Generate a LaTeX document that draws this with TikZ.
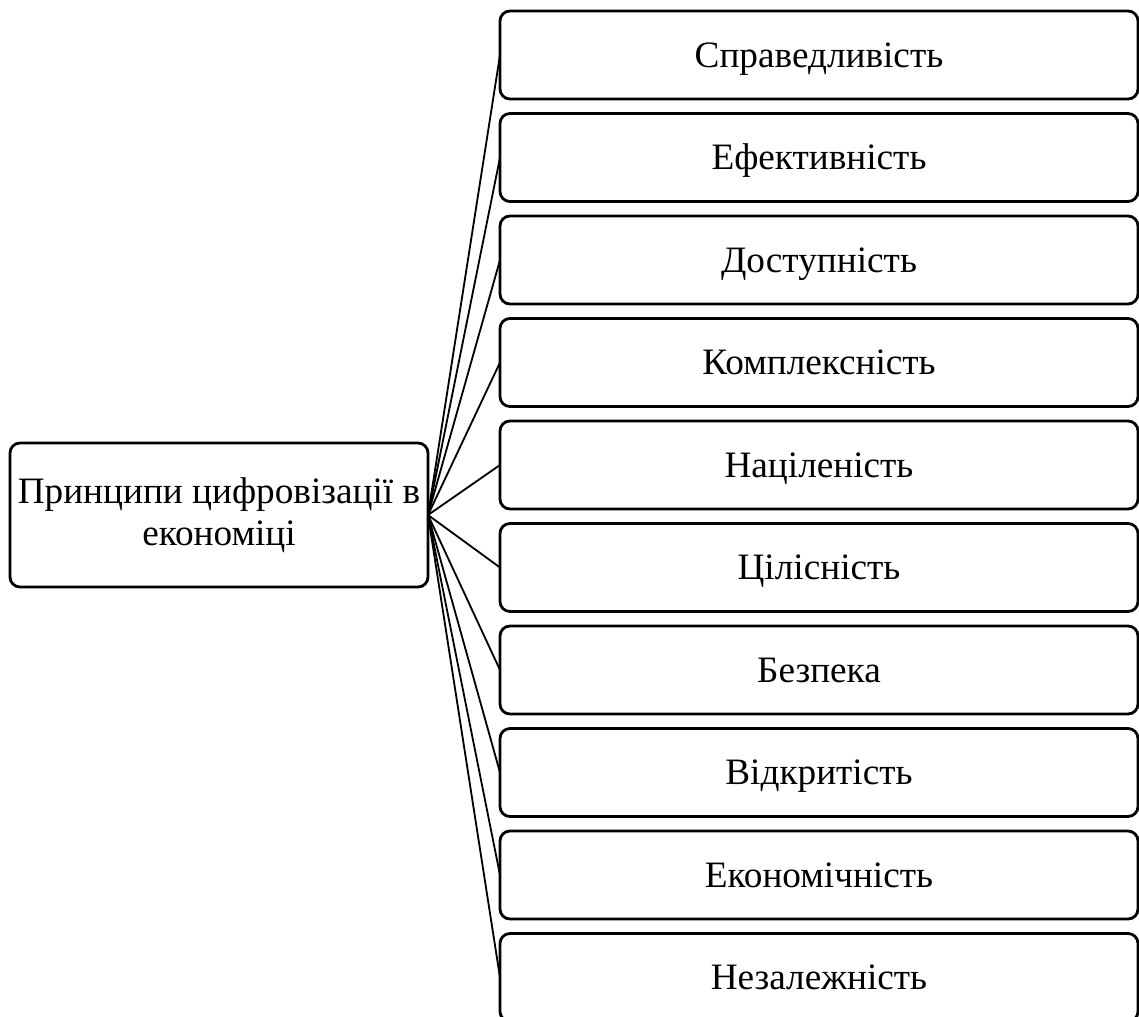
\documentclass[tikz,border=0pt]{standalone}
\usepackage{fontspec}
\setmainfont{Liberation Serif}
\usetikzlibrary{positioning}

\begin{document}
\begin{tikzpicture}[
  box/.style = {draw, line width=2pt, rounded corners=0.25cm,
      inner sep=0pt, outer sep=0pt, font=\fontsize{26.5}{30}\selectfont},
  principle/.style = {box, minimum width=15.95cm, minimum height=2.2cm,
      text height=17.5pt, text depth=0pt},
  root/.style = {box, minimum width=10.45cm, minimum height=3.6cm,
      align=center},
  link/.style = {draw, line width=1.3pt},
  node distance = 0.3625cm
  ]
  \useasboundingbox (0,0) rectangle (28.475,-25.425);
  \node[principle] (p1) at (20.475,-1.375) {Справедливість};
  \foreach \txt [count=\i from 2, evaluate=\i as \j using int(\i-1)] in
    {Ефективність, Доступність, Комплексність, Націленість, Цілісність,
     Безпека, Відкритість, Економічність, Незалежність}
    \node[principle, below=of p\j] (p\i) {\txt};
  %
  \node[root] (main) at (5.475,-12.875) {Принципи цифровізації в\\економіці};
  \foreach \i in {1,...,10}
    \draw[link] (main.east) -- (p\i.west);
\end{tikzpicture}
\end{document}
